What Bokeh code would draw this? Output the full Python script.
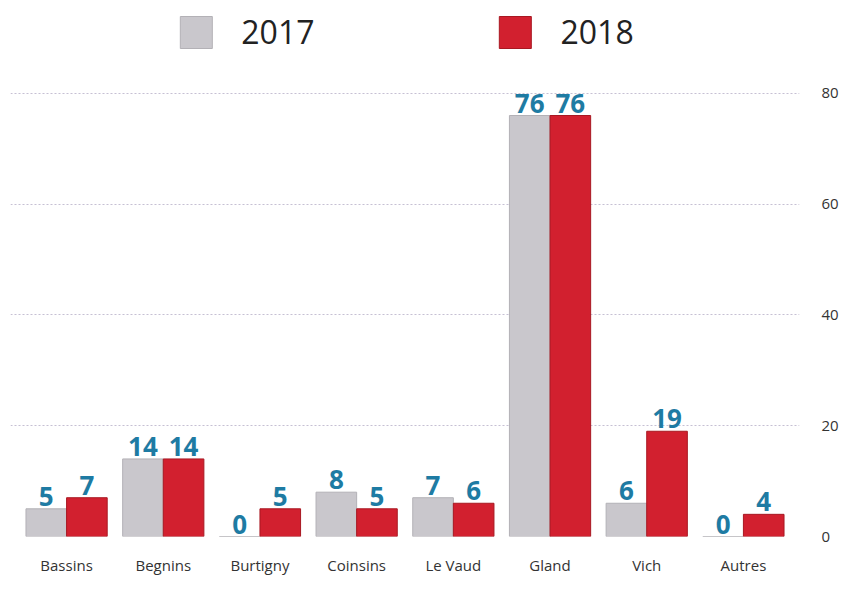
from bokeh.plotting import figure
from bokeh.models import ColumnDataSource, Legend, LegendItem, FactorRange, FixedTicker, Range1d
from bokeh.transform import dodge
from bokeh.core.properties import value
from bokeh.embed import file_html
from bokeh.resources import INLINE

categories = ["Bassins", "Begnins", "Burtigny", "Coinsins", "Le Vaud", "Gland", "Vich", "Autres"]
values_2017 = [5, 14, 0, 8, 7, 76, 6, 0]
values_2018 = [7, 14, 5, 5, 6, 76, 19, 4]
y_ticks = [0, 20, 40, 60, 80]

GREY = "#c9c7cc"
RED = "#d2202f"
BLUE = "#1e7ba3"

src = ColumnDataSource(dict(
    cat=categories,
    v17=values_2017,
    v18=values_2018,
    t17=[str(v) for v in values_2017],
    t18=[str(v) for v in values_2018],
))

p = figure(width=841, height=590, x_range=FactorRange(*categories, range_padding=0.02),
           y_range=Range1d(0, 96.4), output_backend="svg", toolbar_location=None,
           y_axis_location="right", min_border_left=10, min_border_top=2,
           min_border_bottom=54, min_border_right=10)

r17 = p.vbar(x=dodge("cat", -0.21, range=p.x_range), top="v17", width=0.42, source=src,
             fill_color=GREY, line_color="#b3b1b6")
r18 = p.vbar(x=dodge("cat", 0.21, range=p.x_range), top="v18", width=0.42, source=src,
             fill_color=RED, line_color="#a81822")

p.text(x=dodge("cat", -0.21, range=p.x_range), y="v17", text="t17", source=src,
       text_align="center", text_baseline="bottom", y_offset=-3,
       text_color=BLUE, text_font_size="26px", text_font_style="bold",
       text_font=value("Open Sans"))
p.text(x=dodge("cat", 0.21, range=p.x_range), y="v18", text="t18", source=src,
       text_align="center", text_baseline="bottom", y_offset=-3,
       text_color=BLUE, text_font_size="26px", text_font_style="bold",
       text_font=value("Open Sans"))

legend = Legend(items=[LegendItem(label="2017", renderers=[r17]),
                       LegendItem(label="2018", renderers=[r18])],
                orientation="horizontal", location="top_center",
                glyph_width=40, glyph_height=40, label_standoff=26, spacing=180,
                label_text_font_size="32px", label_text_font="Open Sans",
                label_text_color="#222222", border_line_color=None,
                background_fill_alpha=0, padding=4, margin=8)
p.add_layout(legend)

p.yaxis.ticker = FixedTicker(ticks=y_ticks)
p.yaxis.axis_line_color = None
p.yaxis.major_tick_line_color = None
p.yaxis.minor_tick_line_color = None
p.yaxis.major_label_text_font_size = "15px"
p.yaxis.major_label_text_color = "#333333"
p.yaxis.major_label_text_font = "Open Sans"
p.yaxis.major_label_standoff = 16

p.xaxis.axis_line_color = None
p.xaxis.major_tick_line_color = None
p.xaxis.major_label_text_font_size = "15px"
p.xaxis.major_label_text_color = "#333333"
p.xaxis.major_label_text_font = "Open Sans"
p.xaxis.major_label_standoff = 12

p.xgrid.grid_line_color = None
p.ygrid.grid_line_color = "#b8b0c8"
p.ygrid.grid_line_dash = "2 2"
p.ygrid.grid_line_alpha = 0.8

p.outline_line_color = None

open("out.html", "w").write(file_html(p, INLINE))
